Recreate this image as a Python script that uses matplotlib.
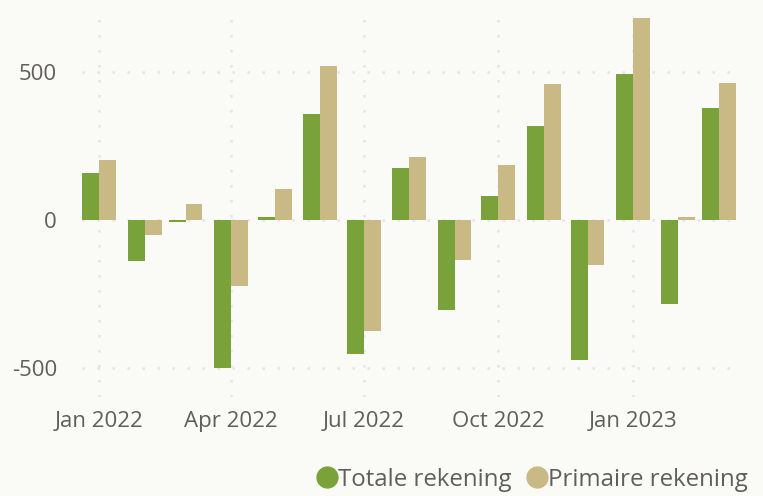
import matplotlib
matplotlib.use("Agg")
import matplotlib.pyplot as plt
import matplotlib.dates as mdates
from matplotlib.lines import Line2D
import datetime as dt

plt.rcParams['font.family'] = ['Open Sans', 'DejaVu Sans']

months = ["2022-01", "2022-02", "2022-03", "2022-04", "2022-05", "2022-06", "2022-07",
          "2022-08", "2022-09", "2022-10", "2022-11", "2022-12", "2023-01", "2023-02", "2023-03"]
totale = [159, -139, -6, -502, 10, 358, -455, 176, -304, 81, 318, -475, 493, -286, 378]
primaire = [203, -51, 54, -225, 105, 520, -374, 213, -137, 186, 459, -154, 682, 10, 463]
series_names = ["Totale rekening", "Primaire rekening"]
tick_months = ["2022-01", "2022-04", "2022-07", "2022-10", "2023-01"]
tick_labels = ["Jan 2022", "Apr 2022", "Jul 2022", "Oct 2022", "Jan 2023"]
y_ticks = [-500, 0, 500]

green = "#79a23a"
tan = "#c9b984"
bg = "#fafaf7"
grid_c = "#e3e3f0"
text_c = "#605e5c"

def to_num(s):
    y, m = s.split("-")
    return mdates.date2num(dt.date(int(y), int(m), 1))

x = [to_num(m) for m in months]
bw = 11.6

fig = plt.figure(figsize=(7.63, 4.96), dpi=100, facecolor=bg)
ax = fig.add_axes([0.1075, 0.2, 0.857, 0.776], facecolor=bg)

ax.bar([v - bw / 2 for v in x], totale, width=bw, color=green, zorder=3, linewidth=0)
ax.bar([v + bw / 2 for v in x], primaire, width=bw, color=tan, zorder=3, linewidth=0)

ax.set_xlim(to_num("2022-01") - 11.8, to_num("2023-03") + 11.5)
ax.set_ylim(-598, 703)

ax.set_xticks([to_num(m) for m in tick_months])
ax.set_xticklabels(tick_labels)
ax.set_yticks(y_ticks)
ax.set_yticklabels([str(v) for v in y_ticks])
ax.tick_params(axis='both', length=0, labelsize=16, colors=text_c)
ax.tick_params(axis='x', pad=10)
ax.tick_params(axis='y', pad=18)

ax.grid(True, color=grid_c, linestyle=(0, (1, 5)), linewidth=1.8, zorder=0)
for s in ax.spines.values():
    s.set_visible(False)

handles = [Line2D([0], [0], marker='o', linestyle='', markersize=15, color=green),
           Line2D([0], [0], marker='o', linestyle='', markersize=15, color=tan)]
leg = fig.legend(handles, series_names, loc='lower right', bbox_to_anchor=(1.008, -0.035),
                 ncol=2, frameon=False, fontsize=17.3, handletextpad=-0.15,
                 columnspacing=0.45, handlelength=1.2, labelcolor=text_c)

fig.savefig("out.png", dpi=100, facecolor=bg)
